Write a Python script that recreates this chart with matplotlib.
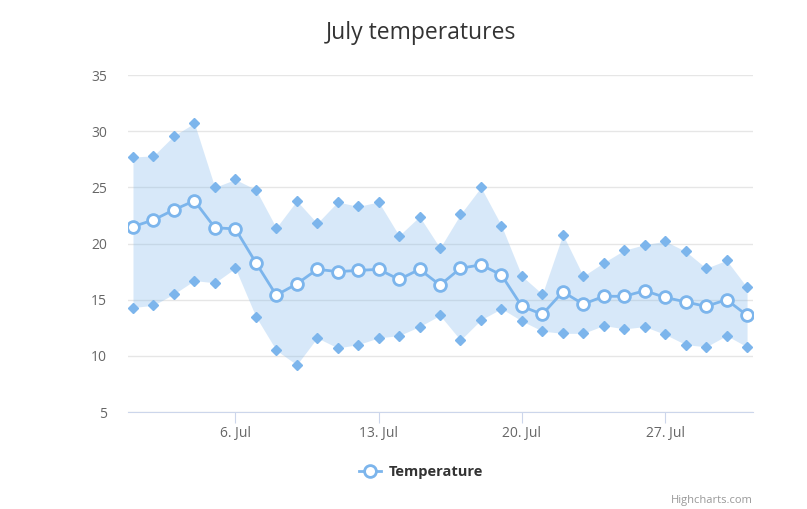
import matplotlib
matplotlib.use("Agg")
import matplotlib.pyplot as plt
from matplotlib.lines import Line2D

days = list(range(1, 32))
lows = [14.3, 14.5, 15.5, 16.7, 16.5, 17.8, 13.5, 10.5, 9.2, 11.6, 10.7, 11.0, 11.6, 11.8,
        12.6, 13.6, 11.4, 13.2, 14.2, 13.1, 12.2, 12.0, 12.0, 12.7, 12.4, 12.6, 11.9, 11.0,
        10.8, 11.8, 10.8]
highs = [27.7, 27.8, 29.6, 30.7, 25.0, 25.7, 24.8, 21.4, 23.8, 21.8, 23.7, 23.3, 23.7, 20.7,
         22.4, 19.6, 22.6, 25.0, 21.6, 17.1, 15.5, 20.8, 17.1, 18.3, 19.4, 19.9, 20.2, 19.3,
         17.8, 18.5, 16.1]
averages = [21.5, 22.1, 23, 23.8, 21.4, 21.3, 18.3, 15.4, 16.4, 17.7, 17.5, 17.6, 17.7, 16.8,
            17.7, 16.3, 17.8, 18.1, 17.2, 14.4, 13.7, 15.7, 14.6, 15.3, 15.3, 15.8, 15.2, 14.8,
            14.4, 15, 13.6]
xtick_days = [6, 13, 20, 27]
xtick_labels = ["6. Jul", "13. Jul", "20. Jul", "27. Jul"]
yticks = [5, 10, 15, 20, 25, 30, 35]

plt.rcParams['font.family'] = ['Open Sans', 'DejaVu Sans']
color = '#7cb5ec'

fig = plt.figure(figsize=(8.07, 5.09), dpi=100)
ax = fig.add_axes([128/807, 1-412/509, (753-128)/807, (412-75)/509])

ax.fill_between(days, lows, highs, color=color, alpha=0.3, linewidth=0, zorder=1)
ax.plot(days, lows, linestyle='none', marker='D', markersize=4.8, color=color, zorder=2)
ax.plot(days, highs, linestyle='none', marker='D', markersize=4.8, color=color, zorder=2)
ax.plot(days, averages, color=color, linewidth=2, marker='o', markersize=8.5,
        markerfacecolor='white', markeredgecolor=color, markeredgewidth=2, zorder=3)

ax.set_xlim(0.756, 31.29)
ax.set_ylim(5, 35)
ax.set_yticks(yticks)
ax.set_xticks(xtick_days)
ax.set_xticklabels(xtick_labels)
ax.grid(axis='y', color='#e6e6e6', linewidth=1)
ax.set_axisbelow(True)
for s in ['top', 'right', 'left']:
    ax.spines[s].set_visible(False)
ax.spines['bottom'].set_color('#ccd6eb')
ax.tick_params(axis='y', length=0, colors='#666666', labelsize=10, pad=15)
ax.tick_params(axis='x', length=8, color='#ccd6eb', colors='#666666', labelsize=10, pad=2)
for lab in ax.get_xticklabels() + ax.get_yticklabels():
    lab.set_color('#666666')

fig.text(421/807, 1-33/509, "July temperatures", ha='center', va='center',
         fontsize=16.5, color='#333333')

# legend
lh = Line2D([], [], color=color, linewidth=2, marker='o', markersize=8.5,
            markerfacecolor='white', markeredgecolor=color, markeredgewidth=2)
leg = fig.legend([lh], ["Temperature"], loc='center', bbox_to_anchor=(421/807, 1-472/509),
                 frameon=False, prop={'weight': 'bold', 'size': 10.5}, handlelength=1.5,
                 handletextpad=0.5)
for t in leg.get_texts():
    t.set_color('#333333')

fig.text(753/807, 1-500/509, "Highcharts.com", ha='right', va='center',
         fontsize=8, color='#999999')

fig.savefig("out.png", dpi=100)
